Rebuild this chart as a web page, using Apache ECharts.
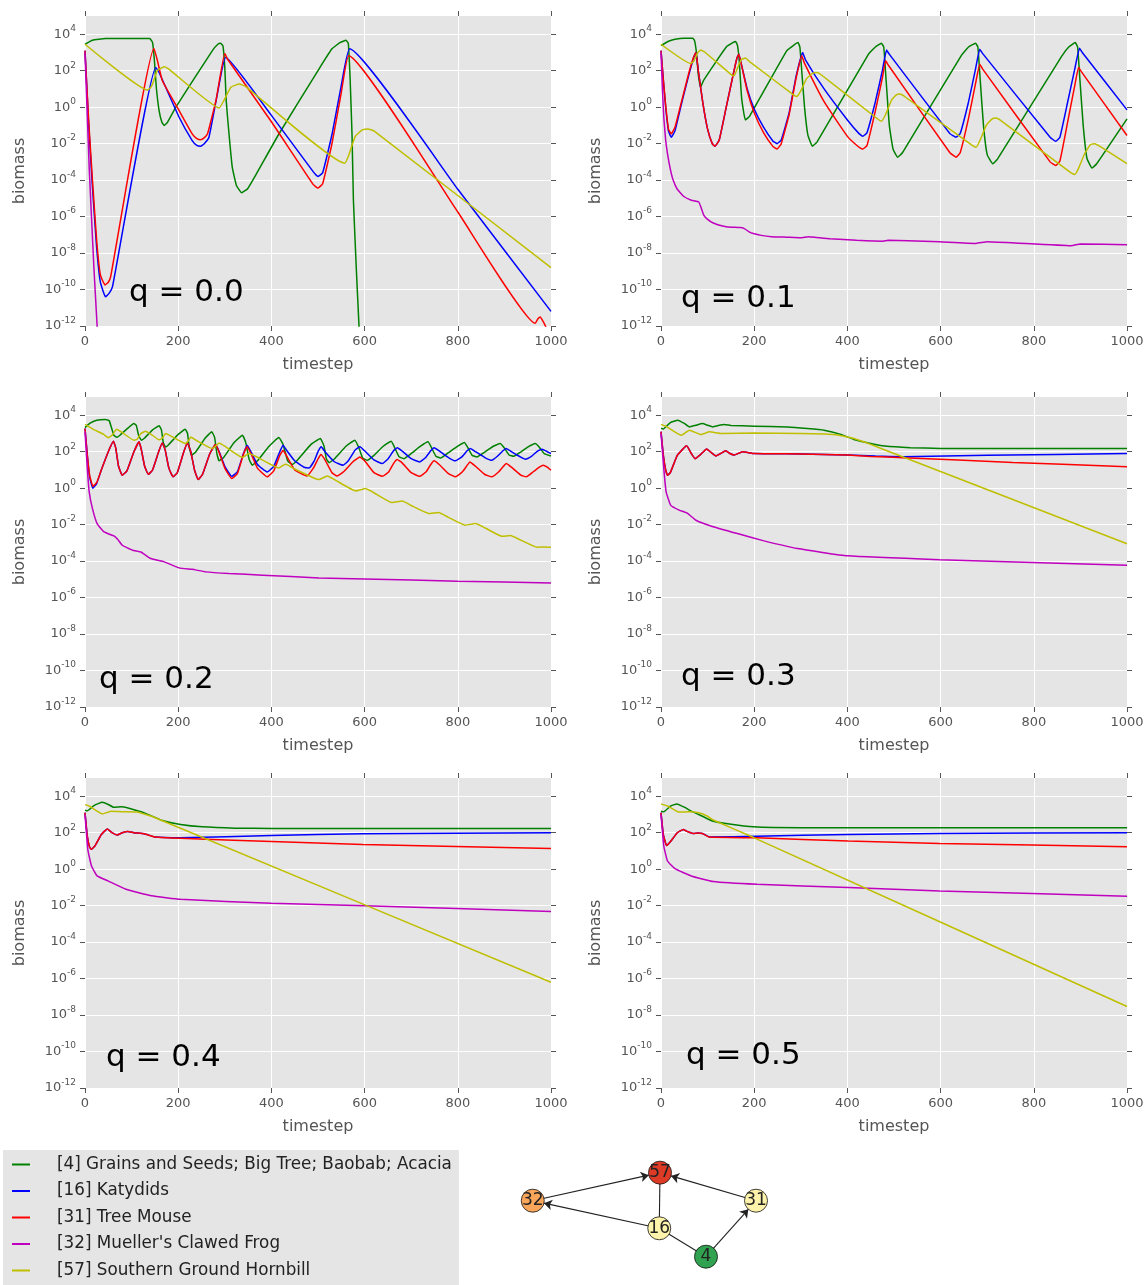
<!DOCTYPE html>
<html>
<head>
<meta charset="utf-8">
<script src="https://cdn.jsdelivr.net/npm/echarts@6/dist/echarts.min.js"></script>
<style>
  html, body { margin: 0; padding: 0; background: #fff; }
  #chart { width: 1148px; height: 1285px; }
</style>
</head>
<body>
<div id="chart"></div>
<script>
// values are log10(biomass) as [timestep, exponent]
const qLabels = ['0.0', '0.1', '0.2', '0.3', '0.4', '0.5'];
const speciesNames = [
    '[4] Grains and Seeds; Big Tree; Baobab; Acacia',
    '[16] Katydids',
    '[31] Tree Mouse',
    "[32] Mueller's Clawed Frog",
    '[57] Southern Ground Hornbill'
];
const speciesColors = ['#008000', '#0000ff', '#ff0000', '#bf00bf', '#bfbf00'];
const xTicks = [0, 200, 400, 600, 800, 1000];
const yTicks = [-12, -10, -8, -6, -4, -2, 0, 2, 4];

const grains = [
    [[0,3.45],[16,3.67],[44,3.76],[139,3.76],[145,3.54],[149,2.54],[153,1.09],[159,-0.19],[165,-0.83],[170,-1.0],[177,-0.83],[195,0.0],[273,3.09],[285,3.45],[291,3.5],[296,3.36],[300,2.18],[303,0.36],[309,-1.46],[316,-3.29],[325,-4.29],[336,-4.69],[349,-4.47],[366,-3.74],[417,-1.43],[502,2.09],[530,3.2],[548,3.55],[560,3.67],[565,3.5],[569,1.5],[573,-1.5],[576,-5.1],[582,-8.75],[588,-12],[592,-14]],
    [[0,3.37],[15,3.6],[30,3.72],[50,3.78],[68,3.78],[72,3.65],[76,3.0],[80,1.8],[85,1.1],[92,1.5],[140,3.3],[155,3.55],[160,3.6],[164,3.4],[168,2.5],[173,0.5],[181,-0.7],[190,-0.5],[270,3.1],[285,3.4],[294,3.54],[298,3.3],[302,2.0],[308,0.0],[315,-1.5],[325,-2.14],[335,-1.9],[445,2.9],[460,3.3],[473,3.5],[478,3.3],[483,1.5],[490,-1.0],[498,-2.3],[508,-2.74],[518,-2.5],[645,2.85],[660,3.3],[675,3.5],[680,3.3],[685,1.5],[692,-1.0],[700,-2.6],[712,-3.1],[722,-2.85],[860,2.8],[875,3.3],[889,3.54],[894,3.3],[899,1.5],[906,-1.0],[914,-2.8],[925,-3.34],[935,-3.1],[1000,-0.64]],
    [[0,3.32],[10,3.55],[25,3.72],[44,3.77],[52,3.7],[57,3.3],[62,2.9],[68,2.79],[75,2.9],[90,3.25],[105,3.54],[110,3.45],[115,2.9],[121,2.63],[128,2.75],[145,3.2],[159,3.42],[164,3.2],[168,2.5],[173,2.26],[180,2.4],[200,2.95],[215,3.23],[220,3.0],[224,2.2],[229,1.81],[238,2.0],[258,2.75],[272,3.09],[278,2.8],[283,1.9],[288,1.5],[298,1.7],[320,2.5],[338,2.9],[345,2.5],[352,1.6],[359,1.26],[370,1.5],[395,2.3],[416,2.78],[425,2.4],[435,1.5],[445,1.3],[458,1.6],[485,2.4],[505,2.72],[513,2.3],[518,1.6],[524,1.4],[535,1.6],[560,2.3],[579,2.63],[588,2.2],[596,1.65],[606,1.53],[620,1.8],[640,2.3],[657,2.58],[665,2.2],[674,1.72],[684,1.62],[700,1.9],[720,2.3],[736,2.54],[744,2.2],[753,1.75],[763,1.66],[780,1.95],[800,2.3],[814,2.5],[822,2.2],[831,1.8],[841,1.71],[858,1.98],[876,2.3],[891,2.45],[900,2.2],[910,1.82],[920,1.75],[935,1.98],[950,2.25],[966,2.45],[975,2.25],[985,1.9],[1000,1.76]],
    [[0,3.27],[5,3.25],[20,3.6],[36,3.73],[50,3.55],[61,3.36],[75,3.45],[89,3.54],[100,3.45],[111,3.36],[125,3.45],[136,3.49],[150,3.44],[200,3.4],[271,3.35],[314,3.27],[350,3.18],[386,2.95],[414,2.67],[450,2.45],[480,2.31],[535,2.22],[600,2.18],[1000,2.18]],
    [[0,3.23],[5,3.2],[20,3.5],[37,3.67],[50,3.55],[61,3.4],[80,3.42],[100,3.3],[127,3.09],[166,2.67],[205,2.45],[252,2.32],[322,2.25],[400,2.23],[1000,2.23]],
    [[0,3.18],[6,3.15],[20,3.45],[34,3.58],[50,3.4],[65,3.18],[89,2.9],[112,2.63],[143,2.49],[198,2.32],[300,2.27],[1000,2.27]]
];

const katydids = [
    [[0,3.1],[8,-1.0],[16,-4.4],[25,-7.7],[33,-9.6],[44,-10.4],[52,-10.2],[59,-9.84],[152,2.18],[159,1.9],[202,-0.55],[230,-1.83],[240,-2.1],[248,-2.14],[256,-2.0],[266,-1.65],[284,0.72],[302,2.73],[400,-0.45],[490,-3.55],[500,-3.8],[510,-3.6],[530,-1.5],[550,1.2],[568,3.2],[800,-4.5],[1000,-11.2]],
    [[0,3.1],[5,1.5],[10,0.0],[16,-1.3],[22,-1.65],[30,-1.3],[45,0.3],[60,1.8],[70,2.7],[75,3.0],[80,2.0],[90,0.2],[100,-1.2],[110,-2.0],[116,-2.14],[125,-1.8],[140,0.0],[155,1.8],[163,2.7],[167,2.9],[172,2.4],[185,1.0],[200,-0.1],[220,-1.1],[240,-1.85],[249,-2.0],[258,-1.8],[275,-0.3],[290,1.7],[304,3.0],[310,2.6],[350,1.0],[400,-0.7],[425,-1.45],[433,-1.6],[442,-1.4],[460,0.3],[475,2.0],[484,3.13],[490,2.9],[620,-1.45],[633,-1.65],[642,-1.45],[660,0.3],[675,2.1],[684,3.18],[690,2.95],[835,-1.65],[847,-1.87],[856,-1.65],[872,0.2],[888,2.1],[898,3.23],[904,3.0],[1000,-0.15]],
    [[0,3.27],[5,1.8],[10,0.6],[17,0.0],[25,0.25],[35,1.0],[50,2.0],[61,2.57],[66,2.2],[72,1.2],[80,0.71],[90,0.95],[105,2.0],[116,2.54],[121,2.1],[128,1.2],[136,0.76],[145,1.0],[158,2.0],[166,2.48],[172,2.1],[180,1.1],[189,0.62],[198,0.85],[212,2.0],[220,2.48],[227,2.0],[235,1.0],[243,0.47],[252,0.75],[268,1.9],[280,2.39],[288,2.0],[300,1.2],[315,0.65],[327,0.9],[340,1.9],[348,2.36],[356,2.0],[370,1.3],[391,0.89],[405,1.2],[418,2.0],[425,2.36],[432,2.1],[450,1.5],[470,1.15],[481,1.11],[492,1.5],[500,2.0],[507,2.27],[515,2.0],[535,1.45],[554,1.26],[565,1.5],[580,2.1],[590,2.27],[600,2.05],[620,1.55],[638,1.35],[650,1.6],[662,2.05],[670,2.22],[680,2.05],[700,1.62],[718,1.44],[730,1.65],[742,2.05],[749,2.22],[760,2.05],[780,1.68],[795,1.5],[808,1.7],[820,2.05],[827,2.18],[838,2.0],[858,1.68],[873,1.53],[885,1.75],[897,2.05],[904,2.18],[915,2.0],[935,1.7],[945,1.59],[958,1.75],[972,2.05],[981,2.14],[992,2.0],[1000,1.9]],
    [[0,3.1],[5,1.8],[10,1.0],[14,0.71],[20,0.85],[35,1.8],[55,2.32],[65,1.9],[73,1.62],[85,1.85],[98,2.15],[108,1.95],[118,1.77],[128,1.9],[139,2.05],[148,1.9],[157,1.82],[175,2.0],[200,1.9],[300,1.88],[400,1.82],[460,1.76],[520,1.73],[700,1.8],[1000,1.9]],
    [[0,3.1],[5,1.8],[10,1.2],[14,1.09],[22,1.3],[35,1.9],[48,2.21],[58,2.0],[69,1.87],[80,2.0],[92,2.07],[105,2.0],[127,1.94],[151,1.76],[205,1.72],[400,1.85],[596,1.94],[1000,2.0]],
    [[0,3.1],[5,1.9],[12,1.3],[20,1.5],[35,2.0],[48,2.18],[58,2.05],[69,1.96],[80,1.98],[89,1.96],[104,1.76],[206,1.81],[402,1.9],[598,1.96],[1000,2.0]]
];

const treeMouse = [
    [[0,3.1],[8,-0.8],[16,-4.0],[25,-7.3],[33,-9.2],[43,-9.75],[50,-9.6],[55,-9.3],[148,3.22],[155,2.6],[166,1.45],[202,-0.19],[230,-1.46],[240,-1.72],[248,-1.79],[255,-1.7],[263,-1.46],[281,0.36],[300,2.94],[306,2.63],[400,-0.8],[490,-4.25],[500,-4.43],[510,-4.2],[530,-2.0],[550,0.8],[566,2.82],[800,-5.75],[966,-11.85],[972,-11.6],[977,-11.5],[983,-11.75],[990,-12.1],[1000,-12.6]],
    [[0,3.1],[5,1.5],[10,0.1],[16,-1.2],[22,-1.46],[30,-1.1],[45,0.4],[60,1.9],[70,2.75],[75,3.0],[80,2.0],[90,0.2],[100,-1.2],[110,-2.0],[116,-2.14],[125,-1.8],[140,0.0],[155,1.8],[163,2.7],[167,2.9],[172,2.4],[185,0.9],[200,-0.3],[220,-1.4],[240,-2.15],[249,-2.3],[258,-2.0],[275,-0.4],[290,1.6],[302,2.82],[308,2.4],[350,0.3],[400,-1.6],[425,-2.2],[433,-2.3],[442,-2.1],[460,-0.2],[475,1.6],[482,2.54],[488,2.3],[620,-2.5],[633,-2.74],[642,-2.5],[660,-0.6],[675,1.3],[684,2.36],[690,2.1],[835,-3.0],[847,-3.2],[856,-2.95],[872,-0.9],[888,1.2],[896,2.18],[902,1.95],[1000,-1.55]],
    [[0,3.27],[5,1.8],[10,0.7],[17,0.1],[25,0.3],[35,1.0],[50,2.0],[61,2.57],[66,2.2],[72,1.2],[80,0.71],[90,0.95],[105,2.0],[116,2.54],[121,2.1],[128,1.2],[136,0.76],[145,1.0],[158,2.0],[166,2.48],[172,2.1],[180,1.1],[189,0.62],[198,0.85],[212,2.0],[220,2.48],[227,2.0],[235,1.0],[243,0.47],[252,0.75],[268,1.9],[280,2.39],[288,1.95],[300,1.1],[315,0.53],[327,0.8],[340,1.85],[348,2.27],[356,1.9],[370,1.1],[391,0.62],[405,0.95],[418,1.8],[425,2.08],[432,1.8],[450,1.0],[476,0.67],[490,1.1],[500,1.6],[506,1.84],[515,1.55],[530,0.85],[541,0.67],[555,0.9],[575,1.45],[590,1.71],[600,1.5],[620,0.85],[638,0.65],[652,0.9],[662,1.35],[670,1.57],[680,1.4],[700,0.85],[718,0.65],[732,0.9],[742,1.3],[749,1.5],[760,1.3],[780,0.8],[795,0.62],[810,0.9],[820,1.25],[826,1.44],[838,1.2],[858,0.75],[873,0.62],[888,0.9],[898,1.2],[904,1.35],[915,1.15],[935,0.72],[947,0.62],[962,0.9],[975,1.15],[983,1.26],[992,1.15],[1000,0.98]],
    [[0,3.1],[5,1.8],[10,1.0],[14,0.71],[20,0.85],[35,1.8],[55,2.32],[65,1.9],[73,1.62],[85,1.85],[98,2.15],[108,1.95],[118,1.77],[128,1.9],[139,2.05],[148,1.9],[157,1.82],[175,2.0],[200,1.9],[300,1.88],[400,1.82],[450,1.74],[520,1.67],[755,1.41],[1000,1.18]],
    [[0,3.1],[5,1.8],[10,1.2],[14,1.09],[22,1.3],[35,1.9],[48,2.21],[58,2.0],[69,1.87],[80,2.0],[92,2.07],[105,2.0],[127,1.94],[151,1.76],[205,1.69],[400,1.52],[596,1.36],[1000,1.14]],
    [[0,3.1],[5,1.9],[12,1.3],[20,1.5],[35,2.0],[48,2.18],[58,2.05],[69,1.96],[80,1.98],[89,1.96],[104,1.76],[206,1.72],[402,1.54],[598,1.41],[1000,1.23]]
];

const clawedFrog = [
    [[0,3.0],[9,-3.3],[19,-8.75],[26,-12],[30,-14.5]],
    [[0,3.0],[3,1.0],[6,-0.55],[10,-1.8],[14,-2.56],[20,-3.4],[26,-4.0],[35,-4.5],[49,-4.9],[65,-5.1],[81,-5.2],[86,-5.5],[92,-5.93],[100,-6.15],[112,-6.35],[130,-6.5],[143,-6.57],[170,-6.6],[178,-6.65],[190,-6.85],[198,-6.93],[215,-7.03],[237,-7.1],[270,-7.13],[300,-7.16],[316,-7.1],[330,-7.13],[363,-7.22],[420,-7.3],[476,-7.35],[488,-7.3],[530,-7.32],[598,-7.38],[676,-7.47],[700,-7.38],[760,-7.45],[880,-7.6],[900,-7.5],[1000,-7.55]],
    [[0,3.1],[5,1.07],[9,-0.2],[16,-1.12],[26,-1.94],[41,-2.4],[62,-2.62],[70,-2.8],[80,-3.13],[102,-3.4],[120,-3.5],[141,-3.86],[170,-4.04],[202,-4.37],[230,-4.45],[259,-4.59],[309,-4.68],[381,-4.77],[502,-4.92],[600,-4.98],[800,-5.1],[1000,-5.2]],
    [[0,3.0],[6,1.07],[11,-0.2],[21,-0.94],[39,-1.2],[57,-1.38],[75,-1.76],[107,-2.07],[164,-2.49],[221,-2.89],[293,-3.31],[400,-3.71],[598,-3.92],[1000,-4.23]],
    [[0,3.0],[6,1.09],[14,0.17],[26,-0.37],[49,-0.64],[88,-1.1],[143,-1.46],[205,-1.65],[400,-1.87],[600,-2.01],[1000,-2.32]],
    [[0,3.0],[6,1.27],[14,0.45],[30,0.03],[65,-0.37],[112,-0.68],[206,-0.83],[402,-1.0],[598,-1.19],[1000,-1.48]]
];

const hornbill = [
    [[0,3.45],[134,0.94],[140,1.05],[145,1.27],[155,2.0],[170,2.22],[180,2.09],[288,-0.04],[298,0.36],[313,1.09],[331,1.27],[345,1.13],[557,-3.07],[565,-2.7],[580,-1.6],[595,-1.25],[607,-1.19],[620,-1.3],[1000,-8.8]],
    [[0,3.45],[63,2.4],[70,2.5],[78,2.95],[85,3.13],[95,3.0],[150,1.8],[157,1.72],[165,2.2],[172,2.6],[181,2.69],[190,2.5],[283,0.7],[291,0.58],[300,0.9],[312,1.55],[325,1.85],[335,1.9],[345,1.75],[465,-0.65],[473,-0.77],[482,-0.4],[495,0.4],[505,0.68],[512,0.72],[522,0.6],[668,-2.1],[676,-2.2],[685,-1.8],[698,-1.0],[710,-0.65],[719,-0.6],[730,-0.75],[880,-3.6],[888,-3.69],[897,-3.3],[910,-2.5],[922,-2.05],[931,-2.0],[942,-2.15],[1000,-3.1]],
    [[0,3.5],[20,3.2],[40,2.95],[50,2.76],[58,2.9],[68,3.23],[80,3.05],[105,2.63],[112,2.68],[120,3.0],[130,3.12],[145,2.9],[159,2.65],[166,2.75],[173,3.0],[185,2.85],[215,2.45],[222,2.6],[227,2.81],[240,2.6],[273,2.17],[280,2.3],[288,2.48],[300,2.3],[338,1.68],[345,1.8],[352,1.9],[370,1.7],[416,1.11],[425,1.25],[431,1.31],[450,1.05],[491,0.56],[502,0.47],[520,0.67],[540,0.4],[581,-0.15],[602,-0.02],[620,-0.25],[659,-0.79],[681,-0.7],[700,-0.95],[738,-1.39],[759,-1.33],[780,-1.6],[816,-2.03],[838,-1.94],[860,-2.2],[895,-2.64],[913,-2.6],[935,-2.85],[970,-3.24],[985,-3.22],[1000,-3.24]],
    [[0,3.5],[10,3.4],[43,2.9],[61,3.18],[86,2.94],[104,3.09],[130,3.0],[200,3.02],[300,3.0],[350,2.97],[379,2.92],[414,2.72],[450,2.4],[500,1.9],[1000,-3.05]],
    [[0,3.54],[10,3.45],[37,3.03],[57,3.18],[80,3.15],[112,3.13],[130,3.0],[143,2.9],[1000,-6.2]],
    [[0,3.58],[15,3.45],[38,3.13],[60,3.15],[81,3.09],[100,2.9],[112,2.7],[200,1.72],[1000,-7.53]]
];

const traces = [grains, katydids, treeMouse, clawedFrog, hornbill];

// food web drawn below the panels (layout units 0..1)
const nodeIds = ['57', '32', '31', '16', '4'];
const nodeX = [0.56, 0.051, 0.944, 0.557, 0.744];
const nodeY = [0.885, 0.63, 0.63, 0.379, 0.121];
const nodeColors = ['#de3b27', '#f9a65a', '#fdf3ab', '#fdf3ab', '#31a24f'];
const edges = [['32', '57', true], ['31', '57', true], ['16', '32', true], ['4', '31', true], ['16', '57', false], ['16', '4', false]];
const selfLoops = ['32', '31'];

const FONT = 'DejaVu Sans';
const GRAY = '#555';
const panelLeft = [85, 661];
const panelTop = [16, 397, 778];
const qLabelPos = [[129, 293], [681, 299], [99, 680], [681, 677], [106, 1058], [686, 1056]];

let chartElement = document.getElementById('chart');
let chart = echarts.init(chartElement);

const tick = { show: true, inside: false, length: 5, lineStyle: { color: GRAY, width: 1 } };
const grids = [], xAxes = [], yAxes = [], series = [], graphics = [];

qLabels.forEach((q, i) => {
    const left = panelLeft[i % 2];
    const top = panelTop[Math.floor(i / 2)];
    grids.push({ left: left, top: top, width: 466, height: 310, show: true, backgroundColor: '#e5e5e5', borderWidth: 0 });

    xAxes.push({
        gridIndex: i, type: 'value', min: 0, max: 1000, interval: 200, position: 'bottom',
        name: 'timestep', nameLocation: 'middle', nameGap: 31,
        nameTextStyle: { fontSize: 16, color: GRAY, fontFamily: FONT },
        axisLine: { show: false, onZero: false },
        axisTick: Object.assign({ customValues: xTicks }, tick),
        axisLabel: { customValues: xTicks, margin: 9, fontSize: 13, color: GRAY, fontFamily: FONT, formatter: v => String(v) },
        splitLine: { show: true, lineStyle: { color: '#fff', width: 1 } }
    });
    xAxes.push({
        gridIndex: i, type: 'value', min: 0, max: 1000, interval: 200, position: 'top',
        axisLine: { show: false, onZero: false },
        axisTick: Object.assign({ customValues: xTicks }, tick),
        axisLabel: { show: false }, splitLine: { show: false }
    });

    yAxes.push({
        gridIndex: i, type: 'value', min: -12, max: 5, position: 'left',
        name: 'biomass', nameLocation: 'middle', nameGap: 57,
        nameTextStyle: { fontSize: 16, color: GRAY, fontFamily: FONT },
        axisLine: { show: false, onZero: false },
        axisTick: Object.assign({ customValues: yTicks }, tick),
        axisLabel: {
            customValues: yTicks, margin: 9,
            formatter: v => '{b|10}{e|' + v + '}',
            rich: {
                b: { fontSize: 13, lineHeight: 20, color: GRAY, fontFamily: FONT },
                e: { fontSize: 9, lineHeight: 11, verticalAlign: 'top', color: GRAY, fontFamily: FONT }
            }
        },
        splitLine: { show: true, lineStyle: { color: '#fff', width: 1 } }
    });
    yAxes.push({
        gridIndex: i, type: 'value', min: -12, max: 5, position: 'right',
        axisLine: { show: false, onZero: false },
        axisTick: Object.assign({ customValues: yTicks }, tick),
        axisLabel: { show: false }, splitLine: { show: false }
    });

    traces.forEach((trace, s) => {
        series.push({
            type: 'line', name: speciesNames[s],
            xAxisIndex: 2 * i, yAxisIndex: 2 * i,
            data: trace[i],
            symbol: 'none', smooth: 0.12, clip: true, silent: true,
            lineStyle: { width: 1.5, color: speciesColors[s] },
            itemStyle: { color: speciesColors[s] }
        });
    });

    graphics.push({
        type: 'text', x: qLabelPos[i][0], y: qLabelPos[i][1], z: 100,
        style: { text: 'q = ' + q, fontSize: 31, fontFamily: FONT, fill: '#000', verticalAlign: 'middle' }
    });
});

// hidden grid for the food web
grids.push({ left: 520, top: 1160, width: 250, height: 110, show: false });
xAxes.push({ gridIndex: 6, type: 'value', min: 0, max: 1, show: false });
yAxes.push({ gridIndex: 6, type: 'value', min: 0, max: 1, show: false });

const links = edges.map(e => ({ source: e[0], target: e[1], symbol: e[2] ? ['none', 'arrow'] : ['none', 'none'] }))
    .concat(selfLoops.map(id => ({ source: id, target: id, symbol: ['none', 'none'], lineStyle: { curveness: 0.6 } })));

series.push({
    type: 'graph', name: 'web', coordinateSystem: 'cartesian2d',
    xAxisIndex: 2 * qLabels.length, yAxisIndex: 2 * qLabels.length,
    symbolSize: 23, silent: true, z: 10,
    data: nodeIds.map((id, k) => ({
        name: id, value: [nodeX[k], nodeY[k]],
        itemStyle: { color: nodeColors[k], borderColor: '#111', borderWidth: 0.8 }
    })),
    links: links,
    edgeSymbolSize: 8,
    lineStyle: { color: '#222', width: 1.1, opacity: 1, curveness: 0 },
    label: { show: true, position: 'inside', fontSize: 17, color: '#222', fontFamily: FONT }
});

const option = {
    animation: false,
    textStyle: { fontFamily: FONT },
    grid: grids,
    xAxis: xAxes,
    yAxis: yAxes,
    legend: {
        data: speciesNames, orient: 'vertical', left: 3, top: 1150, height: 300,
        backgroundColor: '#e5e5e5', padding: [6, 7, 20, 9],
        itemGap: 9.5, itemWidth: 18, itemHeight: 2, icon: 'rect',
        selectedMode: false,
        textStyle: { fontSize: 16.8, lineHeight: 17, color: '#222', fontFamily: FONT, padding: [0, 0, 0, 22] }
    },
    graphic: graphics,
    series: series
};
chart.setOption(option);
</script>
</body>
</html>
